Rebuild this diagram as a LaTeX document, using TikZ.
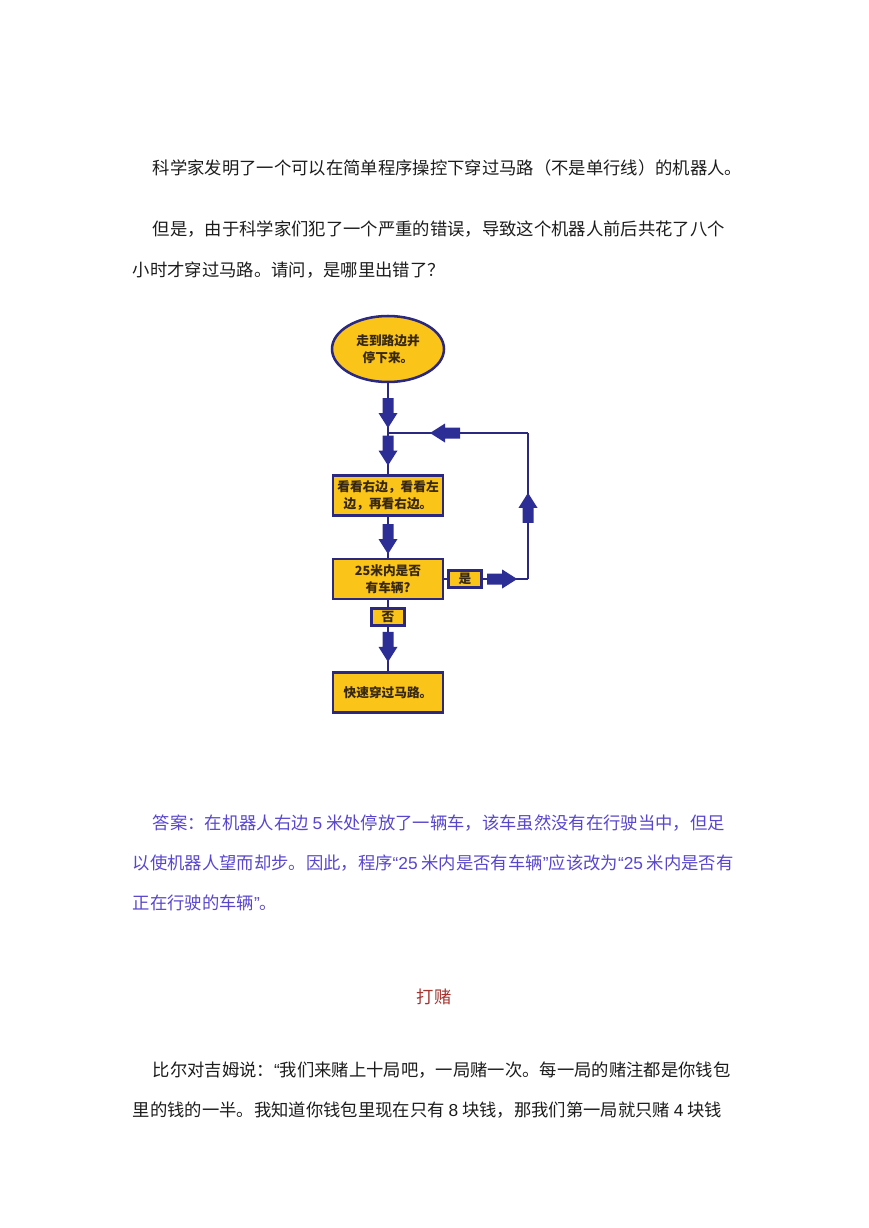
\documentclass[tikz,border=0pt]{standalone}
\usepackage{fontspec}
\newfontfamily\cjk{Noto Sans CJK SC}
\newfontfamily\latin{Liberation Sans}
\usetikzlibrary{math, calc, shapes.geometric, decorations.markings}

\definecolor{bodytext}{RGB}{28,28,28}
\definecolor{answer}{RGB}{88,70,205}
\definecolor{titlered}{RGB}{165,52,48}
\definecolor{gold}{RGB}{250,196,24}
\definecolor{navy}{RGB}{42,40,128}
\definecolor{arrowblue}{RGB}{44,46,150}
\definecolor{boxtext}{RGB}{55,40,20}

% latin quotes and figures inside chinese lines
\newcommand{\lat}[1]{{\latin #1}}

\begin{document}
\begin{tikzpicture}[x=0.75pt, y=-0.75pt, line width=1pt,
    txt/.style={anchor=west, inner sep=0pt, text height=11.44pt, text depth=1.56pt,
        font=\cjk\fontsize{13}{13}\selectfont, text=bodytext},
    terminal/.style={ellipse, draw=navy, line width=1.9pt, fill=gold, inner sep=0pt,
        minimum width=84pt, minimum height=49.5pt, align=center, text=boxtext,
        font=\cjk\bfseries\fontsize{9.5}{12.75}\selectfont},
    process/.style={rectangle, draw=navy, line width=1.9pt, fill=gold, inner sep=0pt,
        minimum width=82.5pt, minimum height=30pt, align=center, text=boxtext,
        font=\cjk\bfseries\fontsize{9.5}{12.75}\selectfont},
    tag/.style={process, minimum width=25pt, minimum height=12.75pt},
    flowline/.style={draw=navy, line width=2.2pt},
    fatarrow/.style={postaction={decorate, decoration={markings,
        mark=at position #1 with {\fill [arrowblue] (-30,-5.5) -- (-15,-5.5) -- (-15,-9.5)
            -- (0,0) -- (-15,9.5) -- (-15,5.5) -- (-30,5.5) -- cycle;}}}}]
    \tikzmath{
        \parx=152;
        \linex=132;
        \midx=388;
        \loopx=528;
    }
    \useasboundingbox (0,0) rectangle (868,1228);

    % question
    \node [txt] (q1) at (\parx,168) {科学家发明了一个可以在简单程序操控下穿过马路（不是单行线）的机器人。};
    \node [txt] (q2) at (\parx,229) {但是，由于科学家们犯了一个严重的错误，导致这个机器人前后共花了八个};
    \node [txt] (q3) at (\linex,270) {小时才穿过马路。请问，是哪里出错了？};

    % flow chart
    \node [terminal] (start) at (\midx,349) {走到路边并\\停下来。};
    \node [process] (look) at (\midx,495.5) {看看右边，看看左\\边，再看右边。};
    \node [process] (check) at (\midx,579) {25米内是否\\有车辆?};
    \node [tag] (yes) at (465,579) {是};
    \node [tag] (no) at (\midx,617) {否};
    \node [process] (go) at (\midx,692.5) {快速穿过马路。};
    \coordinate (join) at (\midx,433);
    \coordinate (turnT) at (\loopx,433);
    \coordinate (turnB) at (\loopx,579);

    \draw [flowline, fatarrow=0.9] (start) -- (join);
    \draw [flowline, fatarrow=0.79] (join) -- (look);
    \draw [flowline, fatarrow=0.91] (look) -- (check);
    \draw [flowline] (check) -- (no);
    \draw [flowline, fatarrow=0.79] (no) -- (go);
    % loop back
    \draw [flowline] (check) -- (yes);
    \draw [flowline, fatarrow=0.76] (yes) -- (turnB);
    \draw [flowline, fatarrow=0.59] (turnB) -- (turnT);
    \draw [flowline, fatarrow=0.7] (turnT) -- (join);

    % answer
    \node [txt, text=answer] (a1) at (\parx,823) {答案：在机器人右边 \lat{5} 米处停放了一辆车，该车虽然没有在行驶当中，但足};
    \node [txt, text=answer] (a2) at (\linex,863) {以使机器人望而却步。因此，程序\lat{“25} 米内是否有车辆\lat{”}应该改为\lat{“25} 米内是否有};
    \node [txt, text=answer] (a3) at (\linex,903) {正在行驶的车辆\lat{”}。};

    % next puzzle
    \node [txt, anchor=center, text=titlered] (title) at (434,997) {打赌};
    \node [txt] (b1) at (\parx,1070) {比尔对吉姆说：\lat{“}我们来赌上十局吧，一局赌一次。每一局的赌注都是你钱包};
    \node [txt] (b2) at (\linex,1110) {里的钱的一半。我知道你钱包里现在只有 \lat{8} 块钱，那我们第一局就只赌 \lat{4} 块钱};
\end{tikzpicture}
\end{document}
